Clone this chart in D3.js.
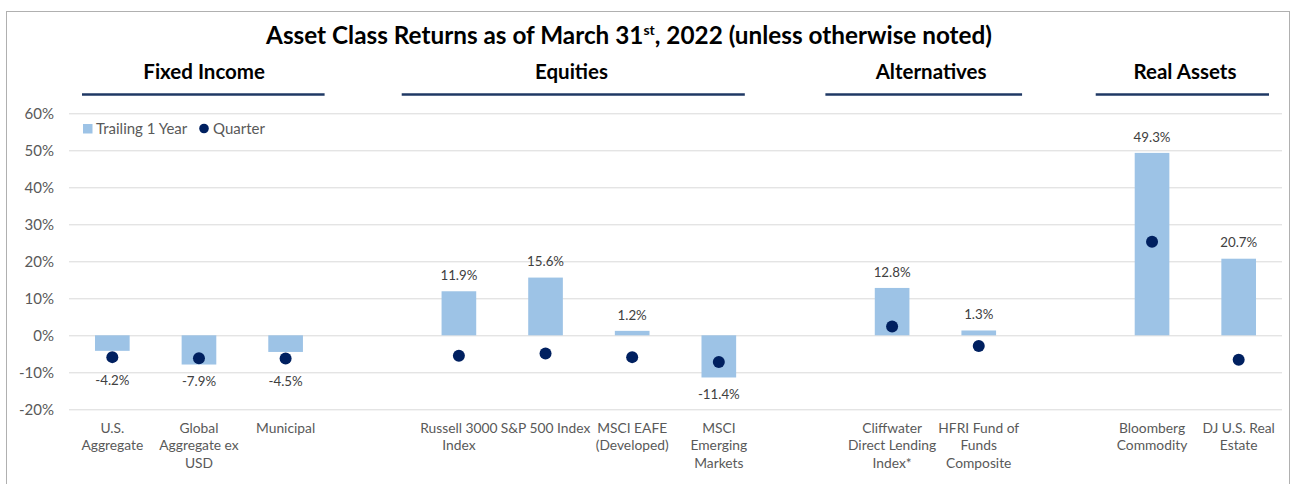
<!DOCTYPE html>
<html>
<head>
<meta charset="utf-8">
<script src="https://cdn.jsdelivr.net/npm/d3@7/dist/d3.min.js"></script>
<style>
  html, body { margin: 0; padding: 0; background: #ffffff; }
  svg { display: block; font-family: Lato, "Open Sans", sans-serif; }
</style>
</head>
<body>
<svg id="chart" width="1296" height="484"></svg>
<script>
// ---------- data ----------
const groups = ["Fixed Income", "Equities", "Alternatives", "Real Assets"];
const categories = [
  "U.S.\nAggregate", "Global\nAggregate ex\nUSD", "Municipal",
  "Russell 3000\nIndex", "S&P 500 Index", "MSCI EAFE\n(Developed)", "MSCI\nEmerging\nMarkets",
  "Cliffwater\nDirect Lending\nIndex*", "HFRI Fund of\nFunds\nComposite",
  "Bloomberg\nCommodity", "DJ U.S. Real\nEstate"
];
const categoryGroup = [0, 0, 0, 1, 1, 1, 1, 2, 2, 3, 3];
const trailing1Year = [-4.2, -7.9, -4.5, 11.9, 15.6, 1.2, -11.4, 12.8, 1.3, 49.3, 20.7];
const quarter = [-5.9, -6.2, -6.3, -5.5, -4.9, -5.9, -7.2, 2.4, -2.9, 25.3, -6.6];
const yTicks = [-20, -10, 0, 10, 20, 30, 40, 50, 60];
const seriesNames = ["Trailing 1 Year", "Quarter"];

// ---------- layout ----------
const plot = { left: 69, right: 1282, top: 113.3, bottom: 409.3 };
const barColor = "#9dc3e6", dotColor = "#002060", lineColor = "#1f3864";
const textGrey = "#595959";

// build slot domain with a spacer between groups
const slots = [];
categories.forEach((c, i) => {
  if (i > 0 && categoryGroup[i] !== categoryGroup[i - 1]) slots.push("spacer" + i);
  slots.push("cat" + i);
});

const svg = d3.select("#chart");

// border
svg.append("rect").attr("x", 6.5).attr("y", 11.5).attr("width", 1283).attr("height", 490)
  .attr("fill", "none").attr("stroke", "#b0b0b0").attr("stroke-width", 1);

const x = d3.scaleBand().domain(slots).range([plot.left, plot.right])
  .paddingInner(0.6).paddingOuter(0.3);
const y = d3.scaleLinear().domain([-20, 60]).range([plot.bottom, plot.top]);
const cx = i => x("cat" + i) + x.bandwidth() / 2;
const slotPos = f => x(slots[0]) + x.bandwidth() / 2 + f * x.step();

// gridlines + y axis
const yAxis = d3.axisLeft(y).tickValues(yTicks).tickFormat(d => d + "%")
  .tickSize(-(plot.right - plot.left)).tickPadding(15);
const gy = svg.append("g").attr("transform", `translate(${plot.left},0)`).call(yAxis);
gy.select(".domain").remove();
gy.selectAll(".tick line").attr("stroke", "#d9d9d9").attr("stroke-width", 1);
gy.selectAll(".tick text").attr("fill", textGrey).style("font-size", "15px")
  .style("font-family", "Lato, sans-serif");

// title
const title = svg.append("text").attr("x", 629).attr("y", 43.5).attr("text-anchor", "middle")
  .style("font-size", "24.3px").style("font-weight", "bold").attr("fill", "#000");
title.append("tspan").text("Asset Class Returns as of March 31");
title.append("tspan").text("st").style("font-size", "14px").attr("dy", -9);
title.append("tspan").text(", 2022 (unless otherwise noted)").attr("dy", 9);

// group headers + underlines
const headerSpans = [[-0.35, 2.45], [3.34, 7.30], [8.23, 10.50], [11.35, 13.35]];
const headerCenters = [1.06, 5.30, 9.45, 12.38];
groups.forEach((g, i) => {
  const [a, b] = headerSpans[i];
  svg.append("line").attr("x1", slotPos(a)).attr("x2", slotPos(b))
    .attr("y1", 94.5).attr("y2", 94.5).attr("stroke", lineColor).attr("stroke-width", 2.5);
  svg.append("text").attr("x", slotPos(headerCenters[i])).attr("y", 79.3)
    .attr("text-anchor", "middle").style("font-size", "20.5px").style("font-weight", "bold")
    .attr("fill", "#000").text(g);
});

// bars
svg.append("g").selectAll("rect").data(trailing1Year).join("rect")
  .attr("x", (d, i) => x("cat" + i))
  .attr("width", x.bandwidth())
  .attr("y", d => y(Math.max(0, d)))
  .attr("height", d => Math.abs(y(d) - y(0)))
  .attr("fill", barColor);

// dots
svg.append("g").selectAll("circle").data(quarter).join("circle")
  .attr("cx", (d, i) => cx(i)).attr("cy", d => y(d)).attr("r", 6).attr("fill", dotColor);

// value labels
svg.append("g").selectAll("text").data(trailing1Year).join("text")
  .attr("x", (d, i) => cx(i))
  .attr("y", (d, i) => d >= 0 ? y(d) - 16 : Math.max(y(d), y(quarter[i]) + 6) + 17)
  .attr("dy", "0.35em").attr("text-anchor", "middle")
  .style("font-size", "13.3px").attr("fill", "#404040")
  .text(d => d.toFixed(1) + "%");

// category labels
categories.forEach((c, i) => {
  const t = svg.append("text").attr("x", cx(i)).attr("y", 432.5).attr("text-anchor", "middle")
    .style("font-size", "13.8px").attr("fill", textGrey);
  c.split("\n").forEach((line, j) => {
    t.append("tspan").attr("x", cx(i)).attr("dy", j === 0 ? 0 : 17.7).text(line);
  });
});

// legend
const lg = svg.append("g");
lg.append("rect").attr("x", 83).attr("y", 124).attr("width", 9.5).attr("height", 9.5).attr("fill", barColor);
lg.append("text").attr("x", 96).attr("y", 134).style("font-size", "15px").attr("fill", textGrey).text(seriesNames[0]);
lg.append("circle").attr("cx", 204).attr("cy", 128.5).attr("r", 4.8).attr("fill", dotColor);
lg.append("text").attr("x", 213).attr("y", 134).style("font-size", "15px").attr("fill", textGrey).text(seriesNames[1]);
</script>
</body>
</html>
